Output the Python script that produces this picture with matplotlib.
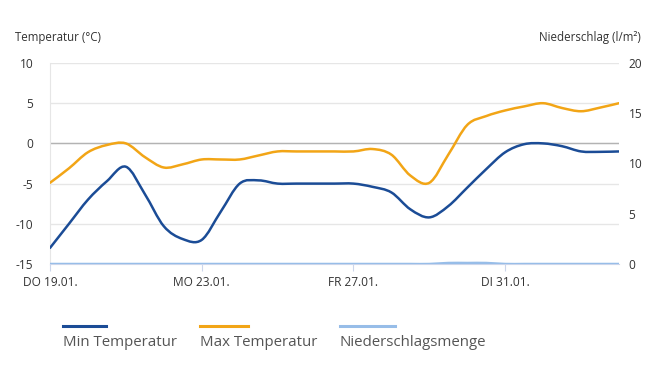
import numpy as np
import matplotlib.pyplot as plt
from matplotlib.path import Path
from matplotlib.patches import PathPatch

# Days since 19.01. (half-day steps)
days = np.arange(0, 15.01, 0.5)

min_temp = [-13.0, -10.0, -7.0, -4.7, -2.9, -6.3, -10.3, -11.9, -12.0, -8.5,
            -5.0, -4.6, -5.0, -5.0, -5.0, -5.0, -5.0, -5.4, -6.1, -8.2,
            -9.2, -7.8, -5.5, -3.2, -1.1, -0.1, 0.0, -0.35, -1.0, -1.05, -1.0]
max_temp = [-4.9, -3.1, -1.1, -0.2, 0.0, -1.7, -3.0, -2.6, -2.0, -2.0,
            -2.0, -1.5, -1.0, -1.0, -1.0, -1.0, -1.0, -0.7, -1.4, -4.0,
            -4.9, -1.4, 2.3, 3.4, 4.1, 4.6, 5.0, 4.4, 4.0, 4.45, 5.0]
precip = [0, 0, 0, 0, 0, 0, 0, 0, 0, 0,
          0, 0, 0, 0, 0, 0, 0, 0, 0, 0,
          0, 0.1, 0.1, 0.1, 0, 0, 0, 0, 0, 0, 0]

tick_days = [0, 4, 8, 12]
tick_labels = ["DO 19.01.", "MO 23.01.", "FR 27.01.", "DI 31.01."]

plt.rcParams["font.family"] = ["Open Sans", "DejaVu Sans"]
plt.rcParams["axes.unicode_minus"] = False


def spline(ax, x, y, **kw):
    # smooth curve through the points (cubic bezier, catmull-rom style)
    x = np.asarray(x, float)
    y = np.asarray(y, float)
    verts = [(x[0], y[0])]
    codes = [Path.MOVETO]
    n = len(x)
    for i in range(n - 1):
        x0, y0 = (x[i - 1], y[i - 1]) if i > 0 else (x[i], y[i])
        x3, y3 = (x[i + 2], y[i + 2]) if i + 2 < n else (x[i + 1], y[i + 1])
        c1 = (x[i] + (x[i + 1] - x0) / 6, y[i] + (y[i + 1] - y0) / 6)
        c2 = (x[i + 1] - (x3 - x[i]) / 6, y[i + 1] - (y3 - y[i]) / 6)
        verts += [c1, c2, (x[i + 1], y[i + 1])]
        codes += [Path.CURVE4] * 3
    ax.add_patch(PathPatch(Path(verts, codes), fill=False, capstyle="round",
                           joinstyle="round", **kw))


fig = plt.figure(figsize=(6.54, 3.65), dpi=100)
ax = fig.add_axes([50 / 654, 1 - 264 / 365, 569 / 654, 201 / 365])
ax2 = ax.twinx()

min_color = "#1b4c96"
max_color = "#f2a516"
rain_color = "#97bde8"

spline(ax, days, min_temp, edgecolor=min_color, lw=1.8, zorder=3)
spline(ax, days, max_temp, edgecolor=max_color, lw=1.8, zorder=3)
spline(ax2, days, precip, edgecolor=rain_color, lw=1.8, zorder=3)

ax.set_xlim(0, 15)
ax.set_ylim(-15, 10)
ax2.set_ylim(0, 20)
ax.set_yticks([-15, -10, -5, 0, 5, 10])
ax2.set_yticks([0, 5, 10, 15, 20])

ax.grid(axis="y", color="#e6e6e6", lw=1)
ax.axhline(0, color="#b3b3b3", lw=1, zorder=2)
ax.set_xticks(tick_days)
ax.set_xticklabels(tick_labels)

for a in (ax, ax2):
    for s in a.spines.values():
        s.set_visible(False)
ax.spines["left"].set_visible(True)
ax.spines["left"].set_color("#e6e6e6")
ax.spines["bottom"].set_visible(True)
ax.spines["bottom"].set_color("#ccd6eb")

ax.tick_params(axis="y", length=0, labelsize=8.6, labelcolor="#333333", pad=12)
ax.tick_params(axis="x", length=5, color="#ccd6eb", labelsize=8.6, labelcolor="#333333", pad=4)
ax2.tick_params(axis="y", length=0, labelsize=8.6, labelcolor="#333333", pad=7)

fig.text(15 / 654, 1 - 37 / 365, "Temperatur (°C)", fontsize=8.3, color="#333333", va="center")
fig.text(641 / 654, 1 - 37 / 365, "Niederschlag (l/m²)", fontsize=8.3, color="#333333",
         va="center", ha="right")

# Legend
items = [("Min Temperatur", min_color, 63, 106),
         ("Max Temperatur", max_color, 200, 248),
         ("Niederschlagsmenge", rain_color, 340, 395)]
for label, color, x0, x1 in items:
    fig.add_artist(plt.Line2D([x0 / 654, x1 / 654], [1 - 326 / 365] * 2, color=color, lw=2.2))
    fig.text(x0 / 654, 1 - 342 / 365, label, fontsize=10.8, color="#555555", va="center")

fig.savefig("out.png", dpi=100)
